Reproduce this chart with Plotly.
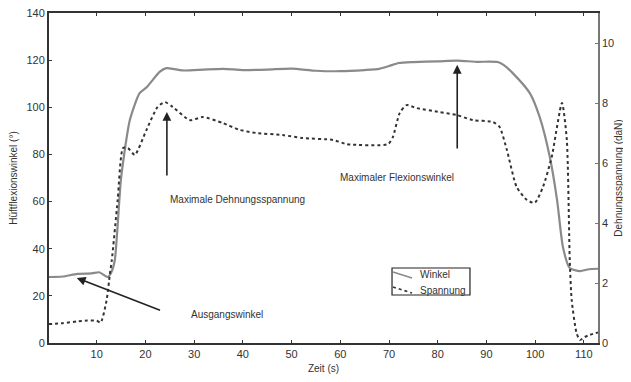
import plotly.graph_objects as go

# Winkel (left axis, degrees)
winkel_t = [0.2, 3, 6, 9, 10.5, 12.3, 13.0, 13.7, 15.0, 16.8, 18.8, 20.3, 22.9, 24.3, 26, 28, 32, 36, 40,
            45, 50, 55, 60, 65, 68, 70, 72, 75, 80, 84, 88, 92.3, 93.5, 95.4, 98.9, 100.9, 103,
            104.5, 105.7, 107.1, 109.2, 111, 112.9]
winkel_v = [28, 28.2, 29.3, 29.5, 30, 28, 30, 35, 70, 94.6, 106, 108.6, 115, 116.6, 116.2, 115.6, 116, 116.3, 115.8,
            116, 116.4, 115.5, 115.3, 115.8, 116.3, 117.5, 118.8, 119.2, 119.5, 119.8, 119.3, 119.2, 118, 114.5, 106, 96, 79,
            60.6, 40.7, 31.8, 30.5, 31.3, 31.5]

# Spannung (right axis, daN)
spann_t = [0.2, 3, 6, 8, 10, 10.8, 12.0, 12.7, 13.1, 14.3, 15.4, 16.4, 17.8, 20.2, 22.5, 24.0, 25.6, 29.1,
           31.8, 35.9, 39.4, 42.8, 48.2, 52.3, 58.5, 61.3, 69.8, 70.8, 72.2, 73.6, 75.7, 80.4, 83.9,
           87.2, 91.3, 92.7, 94.2, 96.2, 98.3, 99.9, 101.6, 103.4, 105.5, 106.5, 107.1, 107.5, 108.5,
           109.2, 110.2, 111.2, 112.9]
spann_v = [0.63, 0.66, 0.72, 0.75, 0.74, 0.68, 1.4, 2.3, 2.77, 4.77, 6.5, 6.5, 6.27, 7.1, 7.87, 8.03, 7.87, 7.43,
           7.53, 7.33, 7.1, 7.0, 6.93, 6.83, 6.77, 6.63, 6.63, 6.87, 7.67, 7.93, 7.83, 7.7, 7.6,
           7.43, 7.37, 7.2, 6.43, 5.2, 4.77, 4.67, 5.2, 6.2, 8.0, 6.77, 2.77, 1.43, 0.33,
           0.1, 0.2, 0.27, 0.35]

series_names = ["Winkel", "Spannung"]
x_ticks = [10, 20, 30, 40, 50, 60, 70, 80, 90, 100, 110]
y_ticks = [0, 20, 40, 60, 80, 100, 120, 140]
y2_ticks = [0, 2, 4, 6, 8, 10]

font = "Liberation Sans, Arial, sans-serif"
txt = "#333333"
c_winkel = "#8a8a8a"
c_spann = "#333333"

fig = go.Figure()
fig.add_trace(go.Scatter(x=winkel_t, y=winkel_v, mode="lines", name=series_names[0],
                         line=dict(color=c_winkel, width=2.2, shape="spline", smoothing=0.6)))
fig.add_trace(go.Scatter(x=spann_t, y=spann_v, mode="lines", name=series_names[1], yaxis="y2",
                         line=dict(color=c_spann, width=2, dash="dot", shape="spline", smoothing=0.6)))

ann = [
    dict(x=5.9, y=27.6, ax=23.3, ay=13.6),
    dict(x=24.4, y=98, ax=24.4, ay=70.4),
    dict(x=84, y=118, ax=84, ay=81.9),
]
for a in ann:
    fig.add_annotation(x=a["x"], y=a["y"], ax=a["ax"], ay=a["ay"], xref="x", yref="y",
                       axref="x", ayref="y", text="", showarrow=True, arrowhead=2,
                       arrowsize=1.1, arrowwidth=1.6, arrowcolor="#222222")

labels = [
    dict(x=29, y=11.9, text="Ausgangswinkel"),
    dict(x=24.6, y=60.7, text="Maximale Dehnungsspannung"),
    dict(x=59.5, y=70.4, text="Maximaler Flexionswinkel"),
]
for l in labels:
    fig.add_annotation(x=l["x"], y=l["y"], xref="x", yref="y", text=l["text"], showarrow=False,
                       xanchor="left", yanchor="middle", font=dict(family=font, size=10, color=txt))

# compact legend box, as in the reference
fig.add_shape(type="rect", xref="paper", yref="paper", x0=0.6248, x1=0.7668, y0=0.1455, y1=0.2273,
              line=dict(color="#222222", width=1.2), fillcolor="white", layer="above")
fig.add_shape(type="line", xref="paper", yref="paper", x0=0.6266, y0=0.2152, x1=0.6612, y1=0.1970,
              line=dict(color=c_winkel, width=1.6), layer="above")
fig.add_shape(type="line", xref="paper", yref="paper", x0=0.6266, y0=0.1697, x1=0.6612, y1=0.1515,
              line=dict(color=c_spann, width=1.6, dash="dot"), layer="above")
for name, yy in zip(series_names, [0.2061, 0.1606]):
    fig.add_annotation(x=0.6721, y=yy, xref="paper", yref="paper", text=name, showarrow=False,
                       xanchor="left", yanchor="middle", font=dict(family=font, size=10, color=txt))

fig.update_layout(
    width=623, height=374,
    margin=dict(l=41, r=33, t=5, b=39, autoexpand=False),
    paper_bgcolor="white", plot_bgcolor="white",
    font=dict(family=font, size=11, color=txt),
    showlegend=False,
    xaxis=dict(range=[0.2, 112.9], tickvals=x_ticks, showgrid=False, zeroline=False, automargin=False,
               showline=True, linecolor="#333333", linewidth=2, mirror="ticks",
               ticks="inside", ticklen=3, tickcolor="#333333", ticklabeloverflow="allow",
               title=dict(text="Zeit (s)", font=dict(size=10, color=txt), standoff=6),
               tickfont=dict(size=11, color=txt)),
    yaxis=dict(range=[0, 140], tickvals=y_ticks, showgrid=False, zeroline=False, automargin=False,
               showline=True, linecolor="#333333", linewidth=2,
               ticks="inside", ticklen=3, tickcolor="#333333", ticklabeloverflow="allow",
               title=dict(text="Hüftflexionswinkel (°)", font=dict(size=10, color=txt), standoff=10),
               tickfont=dict(size=11, color=txt)),
    yaxis2=dict(range=[0, 11], tickvals=y2_ticks, overlaying="y", side="right", showgrid=False,
                zeroline=False, showline=True, linecolor="#777777", linewidth=1.5, automargin=False,
                ticks="inside", ticklen=3, tickcolor="#777777", ticklabeloverflow="allow",
                title=dict(text="Dehnungsspannung (daN)", font=dict(size=10, color=txt), standoff=2),
                tickfont=dict(size=11, color=txt)),
)

fig.write_html("out.html")
